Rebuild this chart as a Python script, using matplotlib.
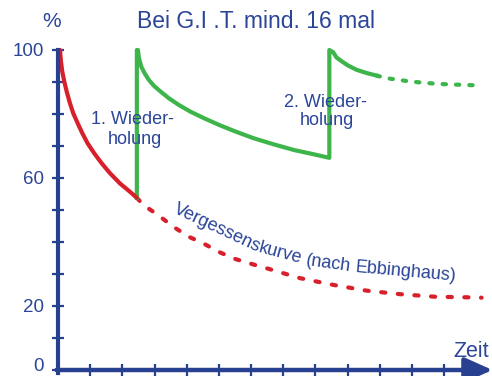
#!/usr/bin/env python3
"""Ebbinghaus forgetting curve with two repetitions (G.I.T. chart)."""

import math

import matplotlib

matplotlib.use("Agg")
import matplotlib.pyplot as plt  # noqa: E402
from matplotlib.font_manager import FontProperties  # noqa: E402
from matplotlib.transforms import IdentityTransform  # noqa: E402

NAVY = "#27408f"
TEXT = "#2b4598"
RED = "#d7202b"
GREEN = "#3db54a"

# x in time-tick units, y in percent
forget_x = [0.062, 0.093, 0.134, 0.196, 0.270, 0.373, 0.475, 0.612, 0.755,
            0.922, 1.127, 1.357, 1.615, 1.925, 2.236, 2.45]
forget_y = [100, 96.3, 93.2, 90.1, 87.0, 83.3, 80.2, 77.1, 74.0,
            70.8, 67.7, 64.6, 61.5, 58.3, 55.7, 53.8]

forget_dot_x = [2.45, 2.65, 3.11, 3.58, 4.05, 4.51, 4.98, 5.44, 5.96, 6.48,
                7.52, 8.55, 9.59, 10.62, 11.71, 12.80, 13.16]
forget_dot_y = [53.8, 51.6, 48.4, 44.8, 41.7, 39.6, 37.0, 34.9, 33.3, 31.8,
                28.7, 26.6, 24.8, 23.7, 22.9, 22.7, 22.6]

repeat_x = [2.45, 2.45, 2.484, 2.516, 2.587, 2.693, 2.826, 2.981, 3.189, 3.447,
            3.758, 4.121, 4.534, 5.0, 5.519, 6.087, 6.708, 7.329, 7.950, 8.43,
            8.43, 8.55, 8.65, 8.81, 9.02, 9.28, 9.59, 9.90]
repeat_y = [53.8, 100, 100, 97.4, 94.8, 92.7, 90.6, 88.8, 87.0, 84.9,
            82.8, 80.7, 78.7, 76.6, 74.5, 72.4, 70.5, 68.75, 67.4, 66.3,
            100, 99.3, 97.7, 96.5, 95.1, 93.8, 92.8, 92.0]

repeat_dot_x = [9.90, 10.21, 10.98, 11.81, 12.59, 13.19]
repeat_dot_y = [92.0, 91.2, 90.1, 89.4, 89.1, 88.9]

y_ticks = [0, 10, 20, 30, 40, 50, 60, 70, 80, 90, 100]
y_tick_labels = ["0", "", "20", "", "", "", "60", "", "", "", "100"]
x_ticks = [1, 2, 3, 4, 5, 6, 7, 8, 9, 10, 11, 12]

# curve caption split into pieces that follow the bend of the red curve
caption_parts = ["Vergessens", "kurve", "(nach", "Ebbinghaus)"]
caption_angles = [-25, -15, -8, -5]
caption_space = [False, True, True, False]

plt.rcParams["font.family"] = ["Liberation Sans", "DejaVu Sans"]


def curved_caption(fig, ax, start, size):
    renderer = fig.canvas.get_renderer()
    prop = FontProperties(family=["Liberation Sans", "DejaVu Sans"], size=size)
    space_w, _, _ = renderer.get_text_width_height_descent(" ", prop, ismath=False)
    px, py = ax.transData.transform(start)
    for word, ang, space in zip(caption_parts, caption_angles, caption_space):
        fig.text(px, py, word, transform=IdentityTransform(), color=TEXT,
                 fontproperties=prop, ha="left", va="baseline",
                 rotation=ang, rotation_mode="anchor")
        w, _, _ = renderer.get_text_width_height_descent(word, prop, ismath=False)
        step = w + (space_w if space else 0.5)
        px += step * math.cos(math.radians(ang))
        py += step * math.sin(math.radians(ang))


def main() -> int:
    fig = plt.figure(figsize=(4.92, 3.76), dpi=100)
    ax = fig.add_axes([58 / 492, 6 / 376, 434.5 / 492, 320 / 376])
    ax.set_xlim(0, 13.5)
    ax.set_ylim(0, 100)

    for side in ("top", "right", "bottom"):
        ax.spines[side].set_visible(False)
    ax.spines["left"].set_color(NAVY)
    ax.spines["left"].set_linewidth(3)
    ax.spines["left"].set_bounds(-0.8, 100)

    ax.set_yticks(y_ticks)
    # the "0" is placed by hand below so it stays inside the canvas
    ax.set_yticklabels([""] + y_tick_labels[1:])
    ax.set_xticks(x_ticks)
    ax.tick_params(axis="y", direction="inout", length=8, width=1.6,
                   color=NAVY, labelcolor=TEXT, labelsize=13.5, pad=6)
    ax.tick_params(axis="x", direction="inout", length=8, width=1.6,
                   color=NAVY, labelbottom=False)
    ax.text(-0.44, -1.7, y_tick_labels[0], color=TEXT, fontsize=13.5,
            ha="right", va="bottom", clip_on=False)

    # x axis with arrow head
    ax.annotate("", xy=(13.5, 0), xytext=(-0.05, 0), annotation_clip=False,
                arrowprops=dict(arrowstyle="-|>,head_length=0.85,head_width=0.38",
                                color=NAVY, lw=3.2, mutation_scale=20,
                                shrinkA=0, shrinkB=0))

    lw = 3.0
    ax.plot(forget_dot_x, forget_dot_y, color=RED, lw=lw, ls=(0, (1.0, 3.0)),
            dash_capstyle="round", clip_on=False)
    ax.plot(repeat_x, repeat_y, color=GREEN, lw=lw, solid_joinstyle="round",
            clip_on=False)
    ax.plot(repeat_dot_x, repeat_dot_y, color=GREEN, lw=lw, ls=(0, (0.8, 2.4)),
            dash_capstyle="round", clip_on=False)
    ax.plot(forget_x, forget_y, color=RED, lw=lw, solid_capstyle="round",
            clip_on=False)

    # labels
    ax.text(-0.19, 107.2, "%", color=TEXT, fontsize=15, ha="center",
            va="baseline", clip_on=False)
    ax.text(6.15, 106.9, "Bei G.I .T. mind. 16 mal", color=TEXT, fontsize=16.5,
            ha="center", va="baseline", clip_on=False)
    ax.text(12.83, 4.1, "Zeit", color=TEXT, fontsize=15.5, ha="center",
            va="baseline", clip_on=False)

    ax.text(2.33, 76.9, "1. Wieder-", color=TEXT, fontsize=13, ha="center",
            va="baseline")
    ax.text(2.38, 70.6, "holung", color=TEXT, fontsize=13, ha="center",
            va="baseline")
    ax.text(8.32, 82.2, "2. Wieder-", color=TEXT, fontsize=13, ha="center",
            va="baseline")
    ax.text(8.35, 76.6, "holung", color=TEXT, fontsize=13, ha="center",
            va="baseline")

    curved_caption(fig, ax, (3.55, 49.3), 13)

    fig.savefig("out.png", dpi=100)
    plt.close(fig)
    return 0


if __name__ == "__main__":
    raise SystemExit(main())
